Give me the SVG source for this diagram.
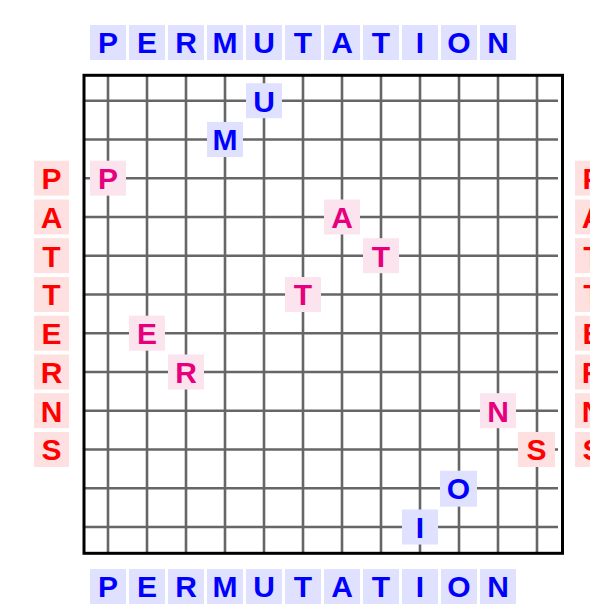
<svg xmlns="http://www.w3.org/2000/svg" width="590" height="613" viewBox="0 0 590 613">
<style>
  text { font-family: "Liberation Sans", Arial, sans-serif; font-weight: bold; font-size: 30px; text-anchor: middle; }
  .gl { stroke: #666666; stroke-width: 2.6; fill: none; }
  .border { stroke: #000000; stroke-width: 3; fill: none; }
  .blue rect { fill: #e0e0ff; }
  .blue text { fill: #0000ff; }
  .red rect { fill: #ffe0e0; }
  .red text { fill: #ff0000; }
  .mag rect { fill: #fce4ef; }
  .mag text { fill: #e6007e; }
</style>
<rect width="590" height="613" fill="#ffffff"/>
<g id="grid">
  <g class="gl">
    <line x1="108" y1="75" x2="108" y2="553"/>
    <line x1="147" y1="75" x2="147" y2="553"/>
    <line x1="186" y1="75" x2="186" y2="553"/>
    <line x1="225" y1="75" x2="225" y2="553"/>
    <line x1="264" y1="75" x2="264" y2="553"/>
    <line x1="303" y1="75" x2="303" y2="553"/>
    <line x1="342" y1="75" x2="342" y2="553"/>
    <line x1="381" y1="75" x2="381" y2="553"/>
    <line x1="420" y1="75" x2="420" y2="553"/>
    <line x1="459" y1="75" x2="459" y2="553"/>
    <line x1="498" y1="75" x2="498" y2="553"/>
    <line x1="537" y1="75" x2="537" y2="553"/>
    <line x1="84" y1="100.7" x2="558" y2="100.7"/>
    <line x1="84" y1="139.5" x2="558" y2="139.5"/>
    <line x1="84" y1="178.2" x2="558" y2="178.2"/>
    <line x1="84" y1="217" x2="558" y2="217"/>
    <line x1="84" y1="255.7" x2="558" y2="255.7"/>
    <line x1="84" y1="294.5" x2="558" y2="294.5"/>
    <line x1="84" y1="333.2" x2="558" y2="333.2"/>
    <line x1="84" y1="372" x2="558" y2="372"/>
    <line x1="84" y1="410.7" x2="558" y2="410.7"/>
    <line x1="84" y1="449.5" x2="558" y2="449.5"/>
    <line x1="84" y1="488.2" x2="558" y2="488.2"/>
    <line x1="84" y1="527" x2="558" y2="527"/>
  </g>
  <rect class="border" x="84" y="75.3" width="478.5" height="478"/>
</g>
<g id="top-row" class="blue">
  <rect x="90" y="25" width="36" height="35"/><text x="108" y="53.3">P</text>
  <rect x="129" y="25" width="36" height="35"/><text x="147" y="53.3">E</text>
  <rect x="168" y="25" width="36" height="35"/><text x="186" y="53.3">R</text>
  <rect x="207" y="25" width="36" height="35"/><text x="225" y="53.3">M</text>
  <rect x="246" y="25" width="36" height="35"/><text x="264" y="53.3">U</text>
  <rect x="285" y="25" width="36" height="35"/><text x="303" y="53.3">T</text>
  <rect x="324" y="25" width="36" height="35"/><text x="342" y="53.3">A</text>
  <rect x="363" y="25" width="36" height="35"/><text x="381" y="53.3">T</text>
  <rect x="402" y="25" width="36" height="35"/><text x="420" y="53.3">I</text>
  <rect x="441" y="25" width="36" height="35"/><text x="459" y="53.3">O</text>
  <rect x="480" y="25" width="36" height="35"/><text x="498" y="53.3">N</text>
</g>
<g id="bottom-row" class="blue">
  <rect x="90" y="569" width="36" height="35"/><text x="108" y="597.3">P</text>
  <rect x="129" y="569" width="36" height="35"/><text x="147" y="597.3">E</text>
  <rect x="168" y="569" width="36" height="35"/><text x="186" y="597.3">R</text>
  <rect x="207" y="569" width="36" height="35"/><text x="225" y="597.3">M</text>
  <rect x="246" y="569" width="36" height="35"/><text x="264" y="597.3">U</text>
  <rect x="285" y="569" width="36" height="35"/><text x="303" y="597.3">T</text>
  <rect x="324" y="569" width="36" height="35"/><text x="342" y="597.3">A</text>
  <rect x="363" y="569" width="36" height="35"/><text x="381" y="597.3">T</text>
  <rect x="402" y="569" width="36" height="35"/><text x="420" y="597.3">I</text>
  <rect x="441" y="569" width="36" height="35"/><text x="459" y="597.3">O</text>
  <rect x="480" y="569" width="36" height="35"/><text x="498" y="597.3">N</text>
</g>
<g id="left-column" class="red">
  <rect x="34" y="160.7" width="35" height="35"/><text x="51.5" y="189">P</text>
  <rect x="34" y="199.5" width="35" height="35"/><text x="51.5" y="227.8">A</text>
  <rect x="34" y="238.2" width="35" height="35"/><text x="51.5" y="266.5">T</text>
  <rect x="34" y="277" width="35" height="35"/><text x="51.5" y="305.3">T</text>
  <rect x="34" y="315.7" width="35" height="35"/><text x="51.5" y="344">E</text>
  <rect x="34" y="354.5" width="35" height="35"/><text x="51.5" y="382.8">R</text>
  <rect x="34" y="393.2" width="35" height="35"/><text x="51.5" y="421.5">N</text>
  <rect x="34" y="432" width="35" height="35"/><text x="51.5" y="460.3">S</text>
</g>
<g id="right-column" class="red">
  <rect x="575" y="160.7" width="35" height="35"/><text x="592.5" y="189">P</text>
  <rect x="575" y="199.5" width="35" height="35"/><text x="592.5" y="227.8">A</text>
  <rect x="575" y="238.2" width="35" height="35"/><text x="592.5" y="266.5">T</text>
  <rect x="575" y="277" width="35" height="35"/><text x="592.5" y="305.3">T</text>
  <rect x="575" y="315.7" width="35" height="35"/><text x="592.5" y="344">E</text>
  <rect x="575" y="354.5" width="35" height="35"/><text x="592.5" y="382.8">R</text>
  <rect x="575" y="393.2" width="35" height="35"/><text x="592.5" y="421.5">N</text>
  <rect x="575" y="432" width="35" height="35"/><text x="592.5" y="460.3">S</text>
</g>
<g id="inner-U" class="blue"><rect x="246" y="83.2" width="36" height="35"/><text x="264" y="111.5">U</text></g>
<g id="inner-M" class="blue"><rect x="207" y="122" width="36" height="35"/><text x="225" y="150.3">M</text></g>
<g id="inner-P" class="mag"><rect x="90" y="160.7" width="36" height="35"/><text x="108" y="189">P</text></g>
<g id="inner-A" class="mag"><rect x="324" y="199.5" width="36" height="35"/><text x="342" y="227.8">A</text></g>
<g id="inner-T1" class="mag"><rect x="363" y="238.2" width="36" height="35"/><text x="381" y="266.5">T</text></g>
<g id="inner-T2" class="mag"><rect x="285" y="277" width="36" height="35"/><text x="303" y="305.3">T</text></g>
<g id="inner-E" class="mag"><rect x="129" y="315.7" width="36" height="35"/><text x="147" y="344">E</text></g>
<g id="inner-R" class="mag"><rect x="168" y="354.5" width="36" height="35"/><text x="186" y="382.8">R</text></g>
<g id="inner-N" class="mag"><rect x="480" y="393.2" width="36" height="35"/><text x="498" y="421.5">N</text></g>
<g id="inner-S" class="red"><rect x="518" y="432" width="37" height="35"/><text x="536.5" y="460.3">S</text></g>
<g id="inner-O" class="blue"><rect x="440" y="470.7" width="37" height="36"/><text x="458.5" y="499.3">O</text></g>
<g id="inner-I" class="blue"><rect x="402" y="509.5" width="36" height="35"/><text x="420" y="537.8">I</text></g>
</svg>
